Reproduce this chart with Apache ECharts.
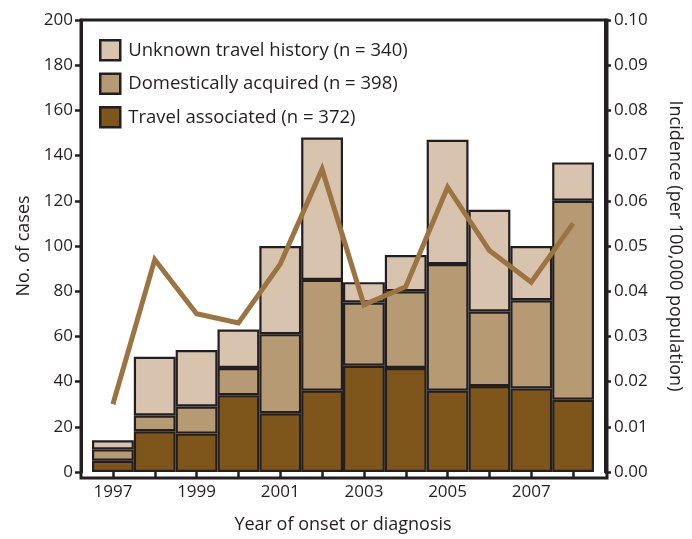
<!DOCTYPE html>
<html><head><meta charset="utf-8">
<script src="https://cdn.jsdelivr.net/npm/echarts@6/dist/echarts.min.js"></script>
<style>html,body{margin:0;padding:0;background:#fff}#c{width:692px;height:539px}</style>
</head><body><div id="c"></div>
<script>
const years = ['1997','1998','1999','2000','2001','2002','2003','2004','2005','2006','2007','2008'];
const travelAssociated = [5,18,17,34,26,36,47,46,36,38,37,32];
const domesticallyAcquired = [5,7,12,12,35,49,28,34,56,33,39,88];
const unknownTravel = [4,26,25,17,39,63,9,16,55,45,24,17];
const incidence = [0.015,0.047,0.035,0.033,0.046,0.067,0.037,0.041,0.063,0.049,0.042,0.055];
const leftTicks = {min:0,max:200,interval:20};
const rightTicks = {min:0,max:0.10,interval:0.01};

const ink = '#231f20';
const font = 'Open Sans';
const chart = echarts.init(document.getElementById('c'));
const barStyle = c => ({color:c,borderColor:ink,borderWidth:2.2});
chart.setOption({
  animation:false,
  textStyle:{fontFamily:font,color:ink},
  grid:{left:92,right:96,top:20,bottom:61},
  graphic:[{type:'rect',shape:{x:81,y:20,width:526,height:458},style:{fill:null,stroke:ink,lineWidth:3},z:10}],
  legend:{orient:'vertical',left:94,top:34,itemWidth:20,itemHeight:20,itemGap:11,icon:'rect',
    data:['Unknown travel history (n = 340)','Domestically acquired (n = 398)','Travel associated (n = 372)'],
    itemStyle:{borderColor:ink,borderWidth:2.5},
    textStyle:{fontFamily:font,fontSize:18.5,color:ink,padding:[0,0,0,3]}},
  xAxis:{type:'category',data:years,
    axisLine:{show:false},
    axisTick:{show:true,alignWithLabel:true,interval:0,length:6,lineStyle:{color:ink,width:2.5}},
    axisLabel:{interval:1,fontSize:17,color:ink,margin:12,fontFamily:font},
    name:'Year of onset or diagnosis',nameLocation:'middle',nameGap:44,
    nameTextStyle:{fontSize:18,color:ink,fontFamily:font}},
  yAxis:[
    {type:'value',min:leftTicks.min,max:leftTicks.max,interval:leftTicks.interval,offset:11,
     splitLine:{show:false},
     axisLine:{show:true,lineStyle:{color:ink,width:3}},
     axisTick:{show:true,length:6,lineStyle:{color:ink,width:2.5}},
     axisLabel:{fontSize:17,color:ink,margin:8,fontFamily:font},
     name:'No. of cases',nameLocation:'middle',nameRotate:90,nameGap:42,
     nameTextStyle:{fontSize:18,color:ink,fontFamily:font}},
    {type:'value',min:rightTicks.min,max:rightTicks.max,interval:rightTicks.interval,offset:11,position:'right',
     splitLine:{show:false},
     axisLine:{show:true,lineStyle:{color:ink,width:3}},
     axisTick:{show:true,length:6,lineStyle:{color:ink,width:2.5}},
     axisLabel:{fontSize:17,color:ink,margin:9,fontFamily:font,formatter:v=>v.toFixed(2)},
     name:'Incidence (per 100,000 population)',nameLocation:'middle',nameRotate:-90,nameGap:61,
     nameTextStyle:{fontSize:18,color:ink,fontFamily:font}}
  ],
  series:[
    {name:'Travel associated (n = 372)',type:'bar',stack:'a',data:travelAssociated,barCategoryGap:0,itemStyle:barStyle('#7e561c')},
    {name:'Domestically acquired (n = 398)',type:'bar',stack:'a',data:domesticallyAcquired,barCategoryGap:0,itemStyle:barStyle('#b69a74')},
    {name:'Unknown travel history (n = 340)',type:'bar',stack:'a',data:unknownTravel,barCategoryGap:0,itemStyle:barStyle('#d8c4ae')},
    {name:'Incidence',type:'line',yAxisIndex:1,data:incidence,showSymbol:false,symbol:'none',z:5,
     lineStyle:{color:'#9b7442',width:5,join:'miter'}}
  ]
});
</script></body></html>
